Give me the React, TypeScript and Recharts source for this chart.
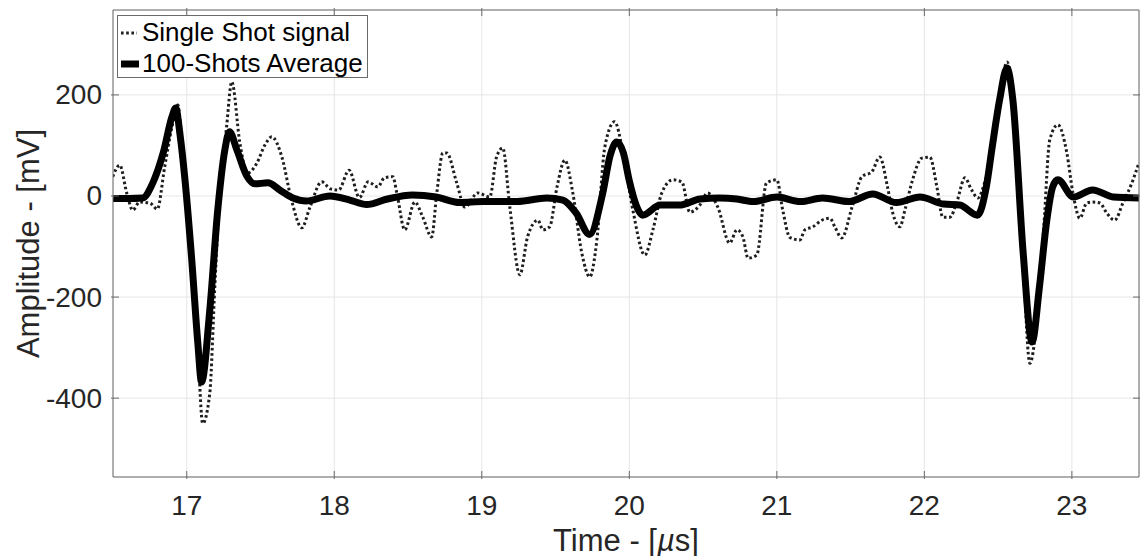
import React from 'react'
import { LineChart, Line, XAxis, YAxis, CartesianGrid, Legend } from 'recharts'

// ── Data ─────────────────────────────────────────────────────────────────────

const shotTime = [
  16.498, 16.546, 16.593, 16.634, 16.68, 16.75, 16.8, 16.85, 16.9, 16.94, 16.973,
  17.034, 17.075, 17.108, 17.156, 17.19, 17.224, 17.27, 17.305, 17.36, 17.41, 17.475,
  17.53, 17.576, 17.644, 17.71, 17.78, 17.834, 17.915, 17.976, 18.03, 18.1, 18.17,
  18.23, 18.295, 18.34, 18.397, 18.424, 18.478, 18.546, 18.6, 18.66, 18.695, 18.736,
  18.763, 18.83, 18.885, 18.973, 19.054, 19.1, 19.142, 19.19, 19.258, 19.31, 19.38,
  19.414, 19.46, 19.51, 19.563, 19.617, 19.678, 19.732, 19.78, 19.834, 19.9, 19.956,
  20.024, 20.105, 20.16, 20.22, 20.295, 20.356, 20.41, 20.478, 20.53, 20.6, 20.68,
  20.73, 20.77, 20.805, 20.864, 20.93, 21.0, 21.04, 21.088, 21.156, 21.19, 21.244,
  21.305, 21.36, 21.393, 21.44, 21.51, 21.576, 21.644, 21.698, 21.75, 21.786, 21.834,
  21.868, 21.92, 21.983, 22.037, 22.085, 22.125, 22.173, 22.22, 22.275, 22.32, 22.363,
  22.41, 22.458, 22.51, 22.56, 22.607, 22.66, 22.715, 22.77, 22.81, 22.85, 22.905,
  22.966, 23.007, 23.054, 23.1, 23.14, 23.19, 23.237, 23.29, 23.346, 23.407, 23.454,
]
const shotAmp = [
  38, 61, 6, -28, -12, -14, -26, 57, 137, 180, 71,
  -100, -300, -450, -390, -180, 6, 137, 226, 105, 45, 65,
  101, 117, 78, -8, -63, -23, 28, 14, 12, 51, -3,
  28, 18, 36, 38, 6, -67, -12, -42, -81, 6, 85,
  85, 26, -22, 6, -2, 77, 95, -22, -156, -81, -48,
  -67, -61, 18, 71, 6, -113, -160, -87, 97, 147, 88,
  -28, -117, -67, 6, 32, 28, -32, -18, 6, -22, -93,
  -67, -81, -123, -117, 26, 32, -28, -82, -87, -67, -61,
  -48, -44, -61, -83, -22, 38, 48, 77, 18, -34, -61,
  -28, 32, 75, 77, 18, -42, -42, -12, 36, 12, -4,
  28, 85, 190, 265, 180, -60, -331, -220, -60, 111, 141,
  85, 6, -44, -14, -12, -14, -34, -48, -14, 26, 65,
]

const avgTime = [
  16.498, 16.6, 16.7, 16.77, 16.84, 16.9, 16.925, 16.955, 16.986, 17.034, 17.075,
  17.1, 17.156, 17.21, 17.258, 17.29, 17.34, 17.41, 17.46, 17.55, 17.63, 17.72,
  17.81, 17.97, 18.105, 18.22, 18.36, 18.53, 18.69, 18.85, 19.01, 19.24, 19.44,
  19.55, 19.64, 19.73, 19.82, 19.87, 19.915, 19.96, 20.0, 20.05, 20.09, 20.21,
  20.34, 20.48, 20.61, 20.73, 20.84, 21.0, 21.16, 21.31, 21.49, 21.65, 21.81,
  21.97, 22.13, 22.24, 22.36, 22.42, 22.46, 22.51, 22.56, 22.6, 22.67, 22.73,
  22.78, 22.83, 22.87, 22.905, 23.01, 23.14, 23.28, 23.455,
]
const avgAmp = [
  -5, -5, -4, 26, 85, 157, 174, 120, 38, -127, -291,
  -368, -226, -28, 91, 127, 91, 38, 24, 26, 12, -4,
  -10, 0, -8, -17, -6, 2, -2, -13, -11, -11, -4,
  -8, -34, -76, 6, 80, 107, 85, 30, -21, -38, -18,
  -18, -6, -4, -6, -11, -2, -11, -4, -11, 4, -13,
  -2, -16, -18, -38, 18, 97, 190, 253, 190, -113, -289,
  -180, -48, 18, 32, -2, 12, -2, -4,
]

const xTicks = [17, 18, 19, 20, 21, 22, 23]
const yTicks = [-400, -200, 0, 200]
const xDomain = [16.5, 23.455]
const yDomain = [-556, 368]

const SHOT_NAME = 'Single Shot signal'
const AVG_NAME = '100-Shots Average'

const shotData = shotTime.map((t, i) => ({ t, v: shotAmp[i] }))
const avgData = avgTime.map((t, i) => ({ t, v: avgAmp[i] }))

// ── Styles ───────────────────────────────────────────────────────────────────

const FONT = '"Liberation Sans", Arial, Helvetica, sans-serif'
const TEXT = '#262626'
const AXIS = '#6a6a6a'
const GRID = '#e6e6e6'
const TICK_LEN = 8
const SHOT_DASH = '2.6 2.6'
const SHOT_COLOR = '#1e1e1e'

// ── Ticks & labels ───────────────────────────────────────────────────────────

function BottomTick({ x, y, payload }: any) {
  return (
    <g>
      <line x1={x} y1={y} x2={x} y2={y - TICK_LEN} stroke={AXIS} />
      <text x={x} y={y + 26} textAnchor="middle" dominantBaseline="central"
        style={{ fontFamily: FONT, fontSize: 28, fill: TEXT }}>
        {payload.value}
      </text>
    </g>
  )
}

function TopTick({ x, y }: any) {
  return <line x1={x} y1={y} x2={x} y2={y + TICK_LEN} stroke={AXIS} />
}

function LeftTick({ x, y, payload }: any) {
  return (
    <g>
      <line x1={x} y1={y} x2={x + TICK_LEN} y2={y} stroke={AXIS} />
      <text x={x - 9} y={y} textAnchor="end" dominantBaseline="central"
        style={{ fontFamily: FONT, fontSize: 28, fill: TEXT }}>
        {payload.value}
      </text>
    </g>
  )
}

function RightTick({ x, y }: any) {
  return <line x1={x} y1={y} x2={x - TICK_LEN} y2={y} stroke={AXIS} />
}

function TimeLabel({ viewBox }: any) {
  const { x, y, width } = viewBox
  return (
    <text x={x + width / 2} y={y + 63} textAnchor="middle" dominantBaseline="central"
      style={{ fontFamily: FONT, fontSize: 31, fill: TEXT }}>
      Time - [<tspan fontStyle="italic">µ</tspan>s]
    </text>
  )
}

function AmpLabel({ viewBox }: any) {
  const { x, y, height } = viewBox
  const cx = x - 25
  const cy = y + height / 2
  return (
    <text x={cx} y={cy} textAnchor="middle" dominantBaseline="central"
      transform={`rotate(-90 ${cx} ${cy})`}
      style={{ fontFamily: FONT, fontSize: 31, fill: TEXT }}>
      Amplitude - [mV]
    </text>
  )
}

function LegendBox() {
  const row: React.CSSProperties = { display: 'flex', alignItems: 'center', height: 31, whiteSpace: 'nowrap' }
  return (
    <div style={{
      width: 249, height: 60, border: `1px solid ${AXIS}`, background: '#fff',
      fontFamily: FONT, fontSize: 26, color: '#000', paddingTop: 1, boxSizing: 'content-box',
    }}>
      <div style={row}>
        <svg width={24} height={10} style={{ flex: 'none' }}>
          <line x1={3} y1={5} x2={19} y2={5} stroke={SHOT_COLOR} strokeWidth={3} strokeDasharray={SHOT_DASH} />
        </svg>
        <span>{SHOT_NAME}</span>
      </div>
      <div style={row}>
        <svg width={24} height={10} style={{ flex: 'none' }}>
          <line x1={3} y1={5} x2={21} y2={5} stroke="#000" strokeWidth={7} />
        </svg>
        <span>{AVG_NAME}</span>
      </div>
    </div>
  )
}

// ── Chart ────────────────────────────────────────────────────────────────────

export default function App() {
  return (
    <div style={{ position: 'absolute', left: 0, top: 0, width: 1140, height: 556, background: '#fff' }}>
      <LineChart width={1140} height={556} margin={{ top: 9, right: 0, bottom: 49, left: 53 }}>
        <CartesianGrid stroke={GRID} strokeWidth={1} />
        <XAxis type="number" dataKey="t" domain={xDomain} ticks={xTicks} allowDataOverflow
          height={30} tickSize={0} tickLine={false} interval={0}
          axisLine={{ stroke: AXIS }} tick={<BottomTick />} label={<TimeLabel />} />
        <XAxis xAxisId="top" orientation="top" type="number" dataKey="t" domain={xDomain}
          ticks={xTicks} allowDataOverflow height={1} tickSize={0} tickLine={false} interval={0}
          axisLine={{ stroke: AXIS }} tick={<TopTick />} />
        <YAxis type="number" domain={yDomain} ticks={yTicks} allowDataOverflow width={60}
          tickSize={0} tickLine={false} interval={0}
          axisLine={{ stroke: AXIS }} tick={<LeftTick />} label={<AmpLabel />} />
        <YAxis yAxisId="right" orientation="right" type="number" domain={yDomain} ticks={yTicks}
          allowDataOverflow width={1} tickSize={0} tickLine={false} interval={0}
          axisLine={{ stroke: AXIS }} tick={<RightTick />} />
        <Legend layout="vertical" align="center" verticalAlign="middle"
          wrapperStyle={{ top: 15, left: 117, width: 'auto' }} content={() => <LegendBox />} />
        <Line data={shotData} dataKey="v" name={SHOT_NAME} type="monotone" stroke={SHOT_COLOR}
          strokeWidth={3} strokeDasharray={SHOT_DASH} dot={false} activeDot={false}
          isAnimationActive={false} />
        <Line data={avgData} dataKey="v" name={AVG_NAME} type="monotone" stroke="#000"
          strokeWidth={7} strokeLinejoin="round" dot={false} activeDot={false}
          isAnimationActive={false} />
      </LineChart>
    </div>
  )
}
